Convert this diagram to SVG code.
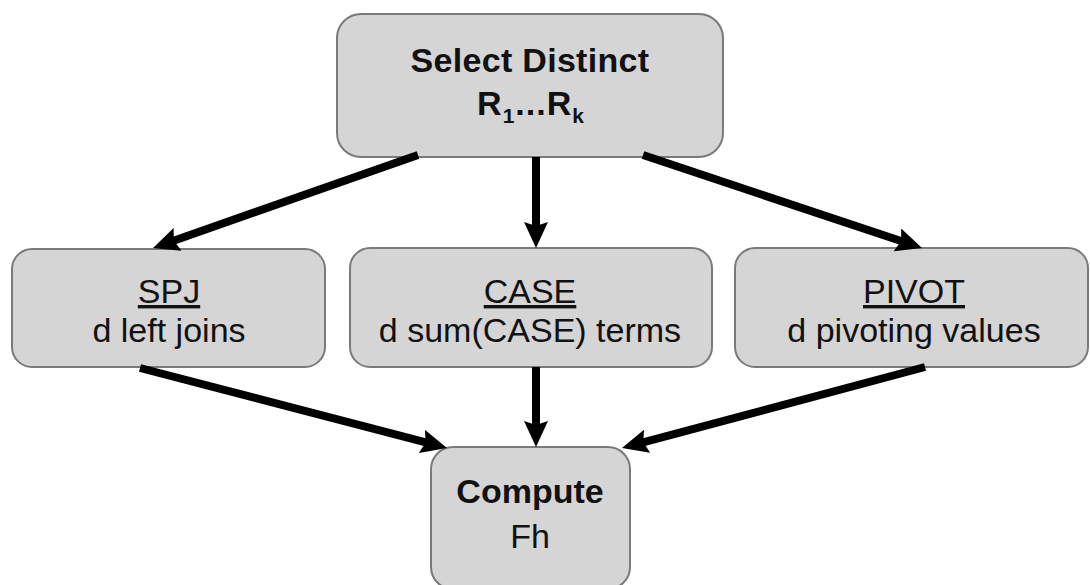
<svg xmlns="http://www.w3.org/2000/svg" width="1090" height="585" viewBox="0 0 1090 585">
<style>
.box{fill:#d5d5d5;stroke:#7a7a7a;stroke-width:2}
.t{font-family:"Liberation Sans",Arial,sans-serif;font-size:34px;fill:#111;text-anchor:middle}
.b{font-weight:bold}
.conn{stroke:#000;stroke-width:8;fill:none;marker-end:url(#ah)}
</style>
<defs>
<marker id="ah" markerUnits="userSpaceOnUse" markerWidth="28" markerHeight="24" viewBox="0 0 28 24" refX="11" refY="12" orient="auto">
<path d="M0,0 L26,12 L0,24 L4,12 Z" fill="#000"/>
</marker>
</defs>
<rect width="1090" height="585" fill="#fff"/>
<g id="select">
<rect class="box" x="337" y="14" width="386" height="143" rx="24"/>
<text class="t b" x="530" y="72" letter-spacing="0.3">Select Distinct</text>
<text class="t b" x="531" y="115" font-size="28" letter-spacing="1">R<tspan font-size="21" dy="8">1</tspan><tspan dy="-8">...</tspan>R<tspan font-size="21" dy="8">k</tspan></text>
</g>
<g id="spj">
<rect class="box" x="12" y="249" width="313" height="118" rx="20"/>
<text class="t" x="169" y="303" text-decoration="underline">SPJ</text>
<text class="t" x="169" y="342">d left joins</text>
</g>
<g id="case">
<rect class="box" x="350" y="248" width="362" height="119" rx="20"/>
<text class="t" x="530" y="303" text-decoration="underline">CASE</text>
<text class="t" x="530" y="342">d sum(CASE) terms</text>
</g>
<g id="pivot">
<rect class="box" x="735" y="248" width="353" height="119" rx="20"/>
<text class="t" x="914" y="303" text-decoration="underline">PIVOT</text>
<text class="t" x="914" y="342">d pivoting values</text>
</g>
<g id="compute">
<rect class="box" x="431" y="447" width="199" height="142" rx="22"/>
<text class="t b" x="530" y="503">Compute</text>
<text class="t" x="530" y="548">Fh</text>
</g>
<g id="connectors">
<line class="conn" x1="418" y1="155" x2="167.2" y2="243"/>
<line class="conn" x1="536" y1="157" x2="536" y2="233"/>
<line class="conn" x1="643" y1="155" x2="907.8" y2="243.3"/>
<line class="conn" x1="140" y1="368" x2="432.5" y2="444.2"/>
<line class="conn" x1="536" y1="367" x2="536" y2="432"/>
<line class="conn" x1="925" y1="367" x2="636.5" y2="444.1"/>
</g>
</svg>
